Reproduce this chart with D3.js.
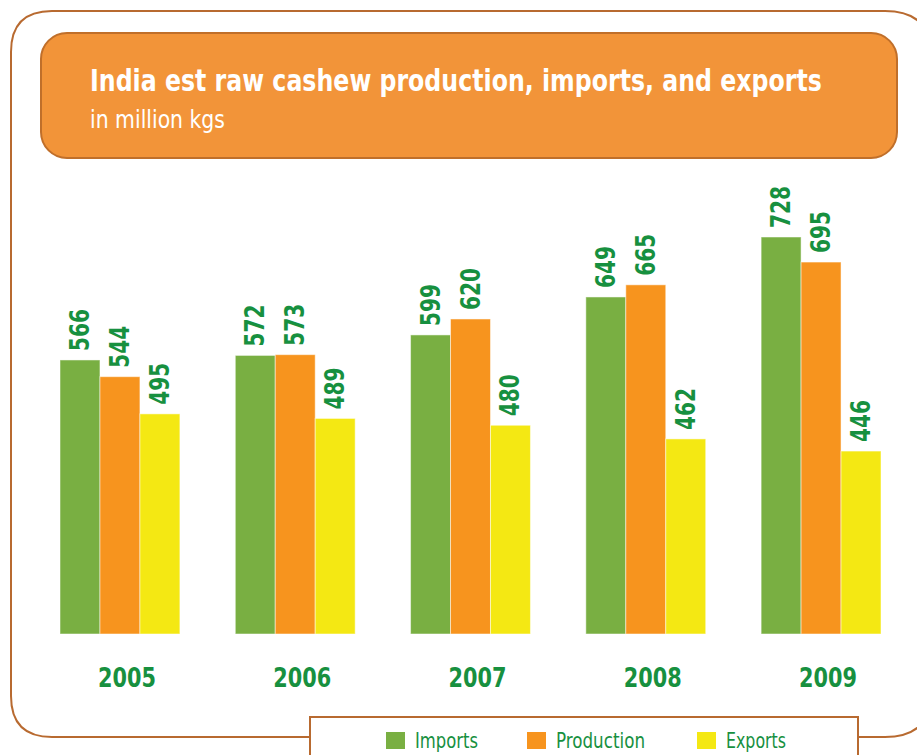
<!DOCTYPE html>
<html><head><meta charset="utf-8">
<script src="https://cdn.jsdelivr.net/npm/d3@7/dist/d3.min.js"></script>
<style>html,body{margin:0;padding:0;background:#fff;overflow:hidden}</style>
</head><body>
<svg id="c" width="917" height="755"></svg>
<script>
const years = ["2005","2006","2007","2008","2009"];
const seriesNames = ["Imports","Production","Exports"];
const imports = [566,572,599,649,728];
const production = [544,573,620,665,695];
const exportsV = [495,489,480,462,446];
const seriesValues = [imports, production, exportsV];
const colors = ["#79AF42","#F7941E","#F4E813"];
const titleText = "India est raw cashew production, imports, and exports";
const subtitleText = "in million kgs";

const svg = d3.select("#c");
const font = "'Liberation Sans Narrow','DejaVu Sans Condensed','Liberation Sans',sans-serif";
const green = "#17903F";
const brown = "#B86A30";

function fitWidth(sel, x, yb, width){
  const w = sel.node().getComputedTextLength();
  sel.attr("x",0).attr("y",0).attr("transform",`translate(${x},${yb}) scale(${width/w},1)`);
}

// outer frame
svg.append("path")
  .attr("d","M 310 737 L 52 737 Q 11 737 11 696 L 11 52 Q 11 11 52 11 L 885 11 Q 932 11 932 58 L 932 690 Q 932 737 885 737 L 858 737")
  .attr("fill","none").attr("stroke",brown).attr("stroke-width",2);

// title box
svg.append("rect").attr("x",41).attr("y",33).attr("width",856).attr("height",125)
  .attr("rx",26).attr("fill","#F29439").attr("stroke","#C06F2A").attr("stroke-width",2);
const t = svg.append("text").text(titleText)
  .attr("fill","#fff").attr("font-family",font).attr("font-weight","bold").attr("font-size",31);
fitWidth(t, 90, 91, 732);
const st = svg.append("text").text(subtitleText)
  .attr("fill","#fff").attr("font-family",font).attr("font-size",24);
fitWidth(st, 90, 128, 135);

// scales
const x0 = d3.scaleBand().domain(years).range([60,881]).paddingInner(0.316).paddingOuter(0);
const x1 = d3.scaleBand().domain(seriesNames).range([0,x0.bandwidth()]).padding(0);
const y = d3.scaleLinear().domain([205,728]).range([634,237]);

const data = years.map((yr,i)=>({year:yr, vals: seriesNames.map((s,j)=>({s, v:seriesValues[j][i], c:colors[j]}))}));

const g = svg.append("g");
const grp = g.selectAll("g.grp").data(data).join("g").attr("class","grp")
  .attr("transform",d=>`translate(${x0(d.year)},0)`);
grp.selectAll("rect").data(d=>d.vals).join("rect")
  .attr("x",d=>x1(d.s)).attr("width",x1.bandwidth())
  .attr("y",d=>y(d.v)).attr("height",d=>y.range()[0]-y(d.v))
  .attr("fill",d=>d.c).attr("stroke","rgba(255,255,255,0.5)").attr("stroke-width",1);
grp.selectAll("text.val").data(d=>d.vals).join("text").attr("class","val")
  .attr("transform",d=>`translate(${x1(d.s)+x1.bandwidth()/2+9},${y(d.v)-9}) rotate(-90)`)
  .text(d=>d.v).attr("fill",green).attr("font-family",font).attr("font-weight","bold")
  .attr("font-size",26).attr("textLength",42).attr("lengthAdjust","spacingAndGlyphs");

// year axis labels
const xAxis = d3.axisBottom(x0).tickSize(0).tickPadding(0);
const ax = svg.append("g").attr("transform","translate(7,687)").call(xAxis);
ax.select(".domain").remove();
ax.selectAll("text").attr("dy",0).attr("y",0).attr("fill",green).attr("font-family",font)
  .attr("font-weight","bold").attr("font-size",27)
  .attr("textLength",58).attr("lengthAdjust","spacingAndGlyphs");

// legend box
svg.append("rect").attr("x",310).attr("y",717).attr("width",548).attr("height",60)
  .attr("fill","#fff").attr("stroke",brown).attr("stroke-width",2);
const legX = [386,527,697];
const legW = [63,89,60];
const leg = svg.append("g").selectAll("g").data(seriesNames).join("g")
  .attr("transform",(d,i)=>`translate(${legX[i]},732)`);
leg.append("rect").attr("width",19).attr("height",17).attr("fill",(d,i)=>colors[i]);
leg.append("text").attr("x",29).attr("y",16).text(d=>d).attr("fill",green)
  .attr("font-family",font).attr("font-size",21)
  .attr("textLength",(d,i)=>legW[i]).attr("lengthAdjust","spacingAndGlyphs");
</script>
</body></html>
